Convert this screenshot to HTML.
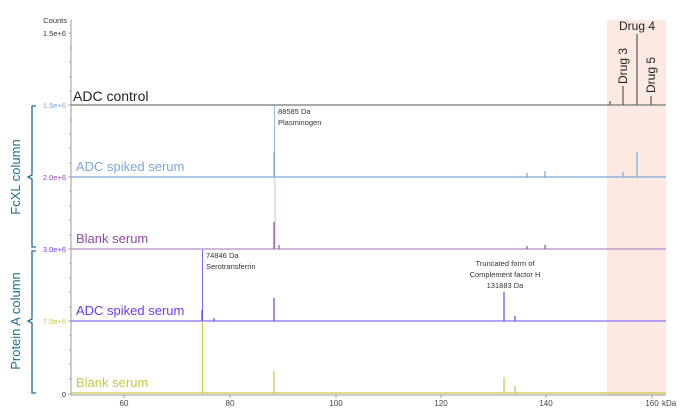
<!DOCTYPE html>
<html><head><meta charset="utf-8"><style>
body{margin:0;background:#fff}
svg{display:block;font-family:"Liberation Sans",sans-serif}
</style></head><body>
<svg width="697" height="412" viewBox="0 0 697 412">
<rect x="607" y="20" width="59" height="375" fill="#fbe9e2"/>
<line x1="71" y1="20" x2="71" y2="395" stroke="#999" stroke-width="1"/>
<g stroke="#aaa" stroke-width="1">
<line x1="68" y1="33" x2="71" y2="33"/><line x1="69" y1="48" x2="71" y2="48"/><line x1="69" y1="62" x2="71" y2="62"/><line x1="69" y1="77" x2="71" y2="77"/><line x1="69" y1="91" x2="71" y2="91"/>
<line x1="68" y1="105" x2="71" y2="105"/><line x1="69" y1="120" x2="71" y2="120"/><line x1="69" y1="134" x2="71" y2="134"/><line x1="69" y1="148" x2="71" y2="148"/><line x1="69" y1="163" x2="71" y2="163"/>
<line x1="68" y1="177" x2="71" y2="177"/><line x1="69" y1="191" x2="71" y2="191"/><line x1="69" y1="206" x2="71" y2="206"/><line x1="69" y1="220" x2="71" y2="220"/><line x1="69" y1="235" x2="71" y2="235"/>
<line x1="68" y1="249" x2="71" y2="249"/><line x1="69" y1="263" x2="71" y2="263"/><line x1="69" y1="278" x2="71" y2="278"/><line x1="69" y1="292" x2="71" y2="292"/><line x1="69" y1="307" x2="71" y2="307"/>
<line x1="68" y1="321" x2="71" y2="321"/><line x1="69" y1="335" x2="71" y2="335"/><line x1="69" y1="350" x2="71" y2="350"/><line x1="69" y1="364" x2="71" y2="364"/><line x1="69" y1="379" x2="71" y2="379"/>
<line x1="68" y1="394" x2="71" y2="394"/>
</g>
<g font-size="7.5" text-anchor="end">
<text x="67" y="23" fill="#333">Counts</text>
<text x="66" y="36" fill="#333">1.5e+6</text>
<text x="66" y="108" fill="#7ba7d6">1.5e+6</text>
<text x="66" y="180" fill="#8e4aa6">2.0e+6</text>
<text x="66" y="252" fill="#6a3cf0">3.0e+6</text>
<text x="66" y="324" fill="#c8c84a">7.0e+6</text>
<text x="66" y="397" fill="#333">0</text>
</g>
<line x1="71" y1="395" x2="666" y2="395" stroke="#999"/>
<g stroke="#999"><line x1="124" y1="395" x2="124" y2="398"/><line x1="230" y1="395" x2="230" y2="398"/><line x1="336" y1="395" x2="336" y2="398"/><line x1="441" y1="395" x2="441" y2="398"/><line x1="546" y1="395" x2="546" y2="398"/><line x1="652" y1="395" x2="652" y2="398"/></g>
<g font-size="8" fill="#444" text-anchor="middle">
<text x="124" y="406">60</text><text x="230" y="406">80</text><text x="336" y="406">100</text><text x="441" y="406">120</text><text x="546" y="406">140</text><text x="652" y="406">160</text>
<text x="662" y="406" text-anchor="start">kDa</text>
</g>
<line x1="71" y1="105" x2="666" y2="105" stroke="#777" stroke-width="1.2"/>
<g stroke="#555" stroke-width="1.2">
<line x1="610" y1="105" x2="610" y2="101"/>
<line x1="623" y1="105" x2="623" y2="86"/>
<line x1="637" y1="105" x2="637" y2="34"/>
<line x1="651" y1="105" x2="651" y2="96"/>
</g>
<text x="73" y="101" font-size="14" fill="#222">ADC control</text>
<text x="619" y="30" font-size="12" fill="#222">Drug 4</text>
<text transform="translate(627,84) rotate(-90)" font-size="12" fill="#222">Drug 3</text>
<text transform="translate(655,93) rotate(-90)" font-size="12" fill="#222">Drug 5</text>
<line x1="71" y1="177" x2="666" y2="177" stroke="#7ba7d6" stroke-width="1.2"/>
<g stroke="#7ba7d6" stroke-width="1.2">
<line x1="274.5" y1="105" x2="274.5" y2="177" stroke-width="0.8"/>
<line x1="274" y1="177" x2="274" y2="152"/>
<line x1="527" y1="177" x2="527" y2="173"/>
<line x1="545" y1="177" x2="545" y2="171"/>
<line x1="623" y1="177" x2="623" y2="172"/>
<line x1="637" y1="177" x2="637" y2="152"/>
</g>
<text x="278" y="114" font-size="7.5" fill="#333">88585 Da</text>
<text x="278" y="125" font-size="7.5" fill="#333">Plasminogen</text>
<text x="76" y="171" font-size="13" fill="#7ba7d6">ADC spiked serum</text>
<line x1="71" y1="249" x2="666" y2="249" stroke="#b48cc8" stroke-width="1.2"/>
<g stroke="#8e4aa6" stroke-width="1.2">
<line x1="275" y1="177" x2="275" y2="249" stroke="#c9a8d6" stroke-width="0.8"/>
<line x1="274" y1="249" x2="274" y2="222"/>
<line x1="279" y1="249" x2="279" y2="245"/>
<line x1="527" y1="249" x2="527" y2="246"/>
<line x1="545" y1="249" x2="545" y2="245"/>
</g>
<text x="76" y="243" font-size="13" fill="#8e4aa6">Blank serum</text>
<line x1="71" y1="321" x2="666" y2="321" stroke="#8a6cf4" stroke-width="1.2"/>
<g stroke="#6a3cf0" stroke-width="1.2">
<line x1="202.5" y1="250" x2="202.5" y2="321" stroke-width="0.8"/>
<line x1="202" y1="321" x2="202" y2="310"/>
<line x1="214" y1="321" x2="214" y2="318"/>
<line x1="274" y1="321" x2="274" y2="298"/>
<line x1="504" y1="321" x2="504" y2="292"/>
<line x1="515" y1="321" x2="515" y2="316"/>
</g>
<text x="206" y="258" font-size="7.5" fill="#333">74846 Da</text>
<text x="206" y="269" font-size="7.5" fill="#333">Serotransferrin</text>
<g font-size="7.5" fill="#333" text-anchor="middle">
<text x="505" y="266">Truncated form of</text>
<text x="505" y="277">Complement factor H</text>
<text x="505" y="288">131883 Da</text>
</g>
<text x="76" y="315" font-size="13" fill="#6a3cf0">ADC spiked serum</text>
<line x1="71" y1="393" x2="666" y2="393" stroke="#c8c84a" stroke-width="1.2"/>
<g stroke="#c8c84a" stroke-width="1.2">
<line x1="202.5" y1="322" x2="202.5" y2="393"/>
<line x1="274" y1="393" x2="274" y2="371"/>
<line x1="504" y1="393" x2="504" y2="377"/>
<line x1="515" y1="393" x2="515" y2="386"/>
</g>
<text x="76" y="387" font-size="13" fill="#c8c84a">Blank serum</text>
<g fill="none" stroke="#1f6e8c" stroke-width="1.3">
<path d="M36,106 L32,106 L32,175 L28,177 L32,179 L32,247 L36,247"/>
<path d="M36,251 L32,251 L32,319 L28,321 L32,323 L32,393 L36,393"/>
</g>
<text transform="translate(20,177) rotate(-90)" font-size="13" fill="#1f6e8c" text-anchor="middle">FcXL column</text>
<text transform="translate(20,321) rotate(-90)" font-size="13" fill="#1f6e8c" text-anchor="middle">Protein A column</text>
</svg>
</body></html>
